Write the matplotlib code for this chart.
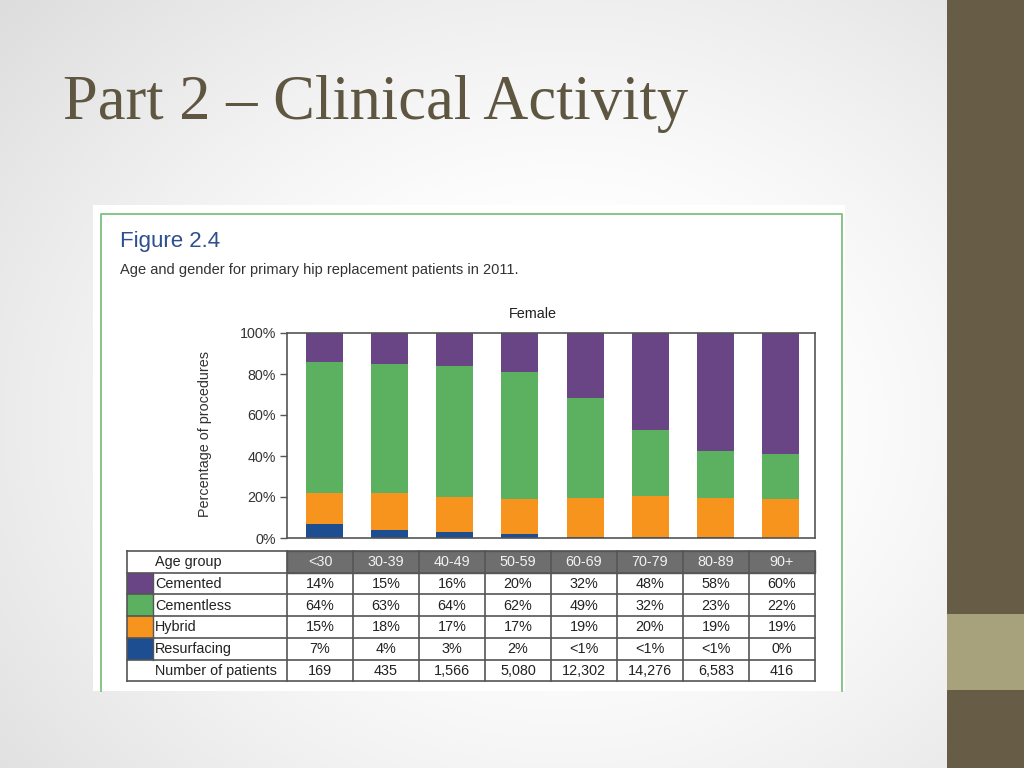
import numpy as np
import matplotlib
matplotlib.use("Agg")
import matplotlib.pyplot as plt
from matplotlib.patches import Rectangle

# ---- data ----
age_groups = ["<30", "30-39", "40-49", "50-59", "60-69", "70-79", "80-89", "90+"]
series_names = ["Cemented", "Cementless", "Hybrid", "Resurfacing"]
cemented = [14, 15, 16, 20, 32, 48, 58, 60]
cementless = [64, 63, 64, 62, 49, 32, 23, 22]
hybrid = [15, 18, 17, 17, 19, 20, 19, 19]
resurfacing = [7, 4, 3, 2, 0.5, 0.5, 0.5, 0]
cemented_lbl = ["14%", "15%", "16%", "20%", "32%", "48%", "58%", "60%"]
cementless_lbl = ["64%", "63%", "64%", "62%", "49%", "32%", "23%", "22%"]
hybrid_lbl = ["15%", "18%", "17%", "17%", "19%", "20%", "19%", "19%"]
resurfacing_lbl = ["7%", "4%", "3%", "2%", "<1%", "<1%", "<1%", "0%"]
patients_lbl = ["169", "435", "1,566", "5,080", "12,302", "14,276", "6,583", "416"]
yticks = [0, 20, 40, 60, 80, 100]
ytick_labels = ["0%", "20%", "40%", "60%", "80%", "100%"]

colors = {"Cemented": "#6A4585", "Cementless": "#5CB160",
          "Hybrid": "#F7941E", "Resurfacing": "#1C4E91"}

W, H = 1024, 768
fig = plt.figure(figsize=(W / 100, H / 100), dpi=100)

# background axes in pixel coordinates
bg = fig.add_axes([0, 0, 1, 1])
bg.set_xlim(0, W)
bg.set_ylim(H, 0)
bg.axis("off")
yy, xx = np.mgrid[0:H:4, 0:W:4]
r = np.sqrt(((xx - 560) / 620.0) ** 2 + ((yy - 420) / 520.0) ** 2)
val = 1 - 0.16 * np.clip(r - 0.35, 0, 1) ** 1.2
img = np.dstack([val, val, val * 1.0])
bg.imshow(img, extent=[0, W, H, 0], aspect="auto", zorder=0)

# right decorative bars
bg.add_patch(Rectangle((947, 0), W - 947, H, color="#675C46", zorder=1, lw=0))
bg.add_patch(Rectangle((947, 614), W - 947, 76, color="#A7A27B", zorder=2, lw=0))

# slide title
bg.text(63, 104, "Part 2 \u2013 Clinical Activity", fontsize=45,
        family="Liberation Serif", color="#5E5640", va="center", ha="left", zorder=3)

# figure image area
bg.add_patch(Rectangle((93, 205), 845 - 93, 691 - 205, facecolor="white", lw=0, zorder=2))
bg.plot([101, 101, 842, 842], [691, 214, 214, 691], color="#7DC07F", lw=1.3, zorder=3)

bg.text(120, 241, "Figure 2.4", fontsize=16, family="Liberation Sans",
        color="#2D4F8E", va="center", ha="left", zorder=3)
bg.text(120, 270, "Age and gender for primary hip replacement patients in 2011.",
        fontsize=10.5, family="Liberation Sans", color="#333333", va="center", ha="left", zorder=3)
bg.text(533, 314, "Female", fontsize=10.4, family="Liberation Sans",
        color="#222222", va="center", ha="center", zorder=3)
bg.text(205, 434, "Percentage of procedures", fontsize=10.4, family="Liberation Sans",
        color="#333333", va="center", ha="center", rotation=90, zorder=3)

# ---- bar chart ----
ax = fig.add_axes([287 / W, 1 - 538 / H, 528 / W, 205 / H], zorder=5)
x = np.arange(len(age_groups))
bottom = np.zeros(len(age_groups))
for name, vals in [("Resurfacing", resurfacing), ("Hybrid", hybrid),
                   ("Cementless", cementless), ("Cemented", cemented)]:
    ax.bar(x, vals, bottom=bottom, width=0.57, color=colors[name], lw=0)
    bottom += np.array(vals)
ax.set_xlim(-0.576, 7.53)
ax.set_ylim(0, 100)
ax.set_yticks(yticks)
ax.set_yticklabels(ytick_labels, family="Liberation Sans", fontsize=10.3, color="#333333")
ax.set_xticks([])
ax.tick_params(axis="y", length=5, width=1, color="#555555", pad=3)
for s in ax.spines.values():
    s.set_color("#555555")
    s.set_linewidth(1.2)

# ---- data table ----
row_top = 551
row_h = 21.7
col_edges = [287 + 66 * k for k in range(9)]
tab_left, sw_right = 127, 153
rows = [("Cemented", cemented_lbl), ("Cementless", cementless_lbl),
        ("Hybrid", hybrid_lbl), ("Resurfacing", resurfacing_lbl),
        ("Number of patients", patients_lbl)]
lc = "#555555"
tfont = dict(family="Liberation Sans", fontsize=10.4, va="center", zorder=6)

# header row
bg.add_patch(Rectangle((col_edges[0], row_top), col_edges[-1] - col_edges[0], row_h,
                       facecolor="#6E6E6E", edgecolor=lc, lw=1, zorder=4))
bg.text(155, row_top + row_h / 2 + 0.5, "Age group", color="#222222", ha="left", **tfont)
for j, g in enumerate(age_groups):
    cx = (col_edges[j] + col_edges[j + 1]) / 2
    bg.text(cx, row_top + row_h / 2 + 0.5, g, color="#F2F2F2", ha="center", **tfont)

for i, (name, labels) in enumerate(rows):
    y0 = row_top + row_h * (i + 1)
    if name in colors:
        bg.add_patch(Rectangle((tab_left, y0), sw_right - tab_left, row_h,
                               facecolor=colors[name], lw=0, zorder=4))
        bg.plot([sw_right, sw_right], [y0, y0 + row_h], color=lc, lw=1, zorder=5)
    bg.text(155, y0 + row_h / 2 + 0.5, name, color="#222222", ha="left", **tfont)
    for j, lab in enumerate(labels):
        cx = (col_edges[j] + col_edges[j + 1]) / 2
        bg.text(cx, y0 + row_h / 2 + 0.5, lab, color="#222222", ha="center", **tfont)

# grid lines
n_rows = len(rows) + 1
bottom_y = row_top + row_h * n_rows
for i in range(n_rows + 1):
    yv = row_top + row_h * i
    bg.plot([tab_left, col_edges[-1]], [yv, yv], color=lc, lw=1.2, zorder=5)
for xe in [tab_left] + col_edges:
    bg.plot([xe, xe], [row_top, bottom_y], color=lc, lw=1.2, zorder=5)

fig.savefig("out.png", dpi=100)
